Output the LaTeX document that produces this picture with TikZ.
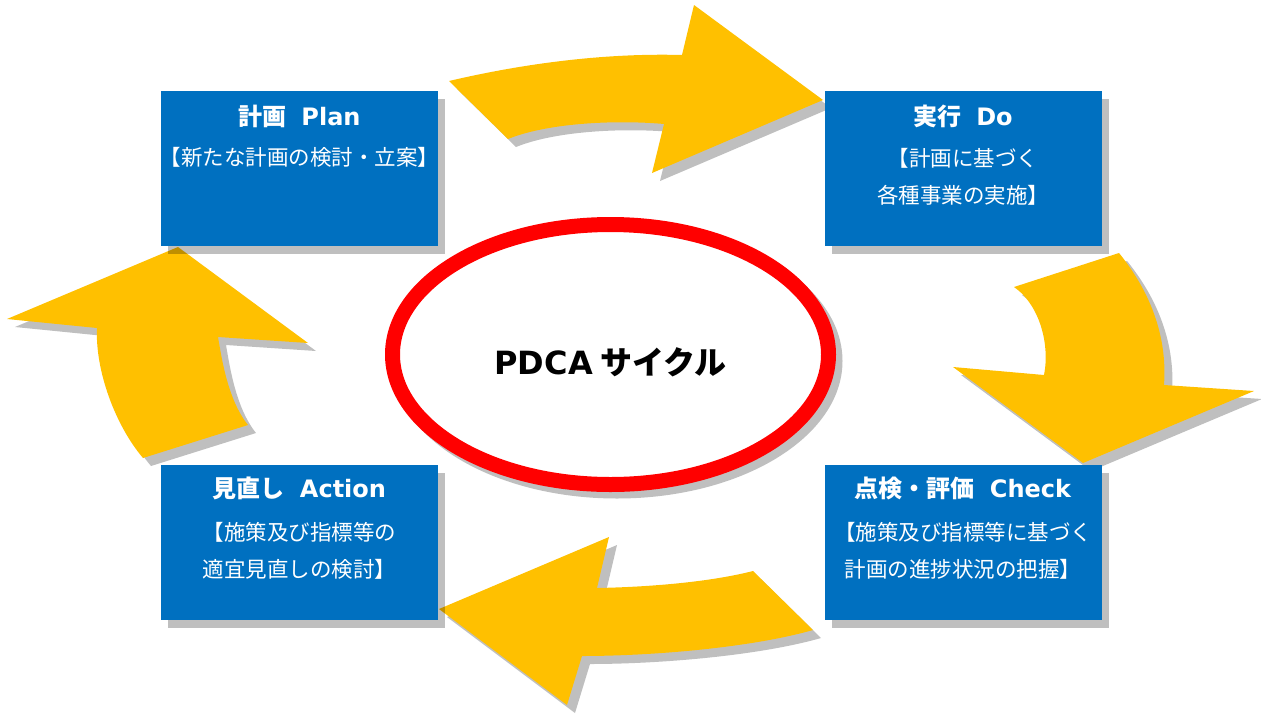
\documentclass[tikz,border=0pt]{standalone}
\usepackage{fontspec}
\setmainfont{Noto Sans CJK JP}
\newfontfamily\latf{DejaVu Sans}
\usetikzlibrary{calc,shadows,shapes.geometric}
\definecolor{boxblue}{HTML}{0070C0}
\definecolor{arrowyellow}{HTML}{FFC000}
\definecolor{ringred}{HTML}{FF0000}
\begin{document}
\begin{tikzpicture}[x=1pt,y=-1pt,
  shade/.style={drop shadow={shadow xshift=8pt, shadow yshift=-8pt, fill=black, opacity=0.25}},
  arrowshape/.style={fill=arrowyellow, shade},
  box/.style={fill=boxblue, minimum width=277pt, minimum height=155pt, inner sep=0pt,
    drop shadow={shadow xshift=7pt, shadow yshift=-8pt, fill=black, opacity=0.25}},
  title/.style={text=white, inner sep=0pt, font=\fontsize{24}{28}\selectfont\bfseries},
  sub/.style={text=white, inner sep=0pt, font=\fontsize{21.5}{26}\selectfont},
  ring/.style={ellipse, draw=ringred, line width=15pt, fill=white, minimum width=436pt, minimum height=260pt, inner sep=0pt}
]
\useasboundingbox (0,0) rectangle (1261,713);

% arrows
\fill[arrowshape] (449,81) .. controls (530,62) and (610,53) .. (682,55) -- (694,5) -- (823,100) -- (652,173) -- (664,124) .. controls (620,120) and (550,122) .. (508,139) -- cycle;
\fill[arrowshape] (1014,287) -- (1119,253) .. controls (1145,285) and (1168,330) .. (1164,385) -- (1254,391) -- (1083,463) -- (953,367) -- (1044,375) .. controls (1050,345) and (1040,305) .. cycle;
\fill[arrowshape] (439,609) -- (609,537) -- (597,588) .. controls (650,587) and (710,582) .. (753,571) -- (813,630) .. controls (750,648) and (650,656) .. (582,656) -- (567,705) -- cycle;
\fill[arrowshape] (178,247) -- (308,343) -- (218,337) .. controls (222,360) and (228,400) .. (248,425) -- (143,458) .. controls (115,425) and (95,370) .. (97,328) -- (7,319) -- cycle;

% centre ellipse
\fill[black, opacity=0.25] (617,361) ellipse [x radius=225.5, y radius=137.5];
\node[ring] (pdca) at (610.5,354.5) {};
\node[inner sep=0pt, font=\fontsize{32}{36}\selectfont\bfseries] (pdcat) at ($(pdca.center)+(0,8)$) {{\latf PDCA} サイクル};

% boxes
\node[box] (plan) at (299.5,168.5) {};
\node[box] (do) at (963,168.5) {};
\node[box] (check) at (963,542.5) {};
\node[box] (act) at (299.5,542.5) {};

\node[title] (plant) at ($(plan.north)+(0,26)$) {計画\hspace{15pt}{\latf Plan}};
\node[sub] (plans) at ($(plan.north)+(0,67)$) {【新たな計画の検討・立案】};

\node[title] (dot) at ($(do.north)+(0,26)$) {実行\hspace{15pt}{\latf Do}};
\node[sub] (dos1) at ($(do.north)+(0,68)$) {【計画に基づく};
\node[sub] (dos2) at ($(do.north)+(0,105)$) {各種事業の実施】};

\node[title] (checkt) at ($(check.north)+(0,24)$) {点検・評価\hspace{15pt}{\latf Check}};
\node[sub] (checks1) at ($(check.north)+(0,68)$) {【施策及び指標等に基づく};
\node[sub] (checks2) at ($(check.north)+(0,105)$) {計画の進捗状況の把握】};

\node[title] (actt) at ($(act.north)+(0,24)$) {見直し\hspace{15pt}{\latf Action}};
\node[sub] (acts1) at ($(act.north)+(0,68)$) {【施策及び指標等の};
\node[sub] (acts2) at ($(act.north)+(0,105)$) {適宜見直しの検討】};
\end{tikzpicture}
\end{document}
